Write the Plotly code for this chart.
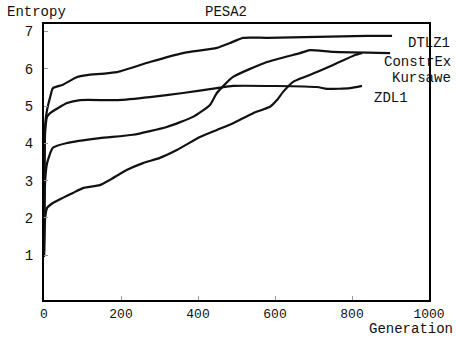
import plotly.graph_objects as go

# Data
dtlz1_gen = [0, 3, 8, 16, 23, 49, 86, 112, 190, 275, 361, 449, 483, 517, 579, 839, 904]
dtlz1_val = [1.0, 4.5, 4.90, 5.24, 5.48, 5.57, 5.78, 5.83, 5.91, 6.18, 6.42, 6.56, 6.69, 6.83, 6.83, 6.88, 6.88]

constrex_gen = [0, 3, 8, 23, 60, 145, 231, 319, 387, 431, 449, 491, 579, 665, 691, 751, 899]
constrex_val = [1.1, 3.0, 3.47, 3.88, 4.01, 4.14, 4.23, 4.44, 4.71, 5.03, 5.35, 5.78, 6.18, 6.42, 6.50, 6.45, 6.42]

zdl1_gen = [0, 3, 8, 16, 60, 94, 190, 275, 361, 449, 491, 709, 735, 795, 826]
zdl1_val = [1.0, 4.3, 4.71, 4.81, 5.08, 5.16, 5.16, 5.24, 5.35, 5.48, 5.54, 5.51, 5.46, 5.48, 5.54]

kursawe_gen = [0, 3, 8, 23, 75, 101, 145, 171, 216, 257, 301, 345, 405, 449, 491, 543, 587, 605, 621, 647, 709, 751, 808, 826]
kursawe_val = [0.95, 2.0, 2.27, 2.40, 2.67, 2.80, 2.88, 3.02, 3.29, 3.47, 3.61, 3.82, 4.17, 4.36, 4.54, 4.81, 4.98, 5.16, 5.38, 5.65, 5.91, 6.10, 6.37, 6.42]

x_ticks = [0, 200, 400, 600, 800, 1000]
y_ticks = [1, 2, 3, 4, 5, 6, 7]

labels = ["DTLZ1", "ConstrEx", "Kursawe", "ZDL1"]

FONT = "Liberation Mono"

fig = go.Figure()
for gx, gy in [(dtlz1_gen, dtlz1_val), (constrex_gen, constrex_val),
               (zdl1_gen, zdl1_val), (kursawe_gen, kursawe_val)]:
    fig.add_trace(go.Scatter(x=gx, y=gy, mode="lines",
                             line=dict(color="#111111", width=2.2, shape="spline", smoothing=0.5),
                             showlegend=False, hoverinfo="skip"))

# label positions (paper coords)
label_pos = [(452, 43), (453, 62), (453, 78), (410, 98)]
for txt, (px, py) in zip(labels, label_pos):
    fig.add_annotation(text=txt, xref="paper", yref="paper",
                       x=(px - 44) / 385, y=(300 - py) / 276,
                       xanchor="right", yanchor="middle", showarrow=False,
                       font=dict(family=FONT, size=14, color="#111111"))

fig.add_annotation(text="Entropy", xref="paper", yref="paper",
                   x=(5 - 44) / 385, y=(300 - 12) / 276, xanchor="left", yanchor="middle",
                   showarrow=False, font=dict(family=FONT, size=14, color="#111111"))
fig.add_annotation(text="PESA2", xref="paper", yref="paper",
                   x=(226 - 44) / 385, y=(300 - 12) / 276, xanchor="center", yanchor="middle",
                   showarrow=False, font=dict(family=FONT, size=14, color="#111111"))
fig.add_annotation(text="Generation", xref="paper", yref="paper",
                   x=(455 - 44) / 385, y=(300 - 329) / 276, xanchor="right", yanchor="middle",
                   showarrow=False, font=dict(family=FONT, size=14, color="#111111"))

fig.update_layout(
    width=456, height=337,
    margin=dict(l=44, r=27, t=24, b=37),
    paper_bgcolor="white", plot_bgcolor="white",
    font=dict(family=FONT, size=14, color="#111111"),
    xaxis=dict(range=[0, 1000], tickvals=x_ticks, showgrid=False, zeroline=False,
               showline=True, linecolor="black", linewidth=2, mirror=True,
               ticks="inside", ticklen=4, tickcolor="#999999",
               tickfont=dict(size=13), ticklabelstandoff=0),
    yaxis=dict(range=[-0.2, 7.2], tickvals=y_ticks, showgrid=False, zeroline=False,
               showline=True, linecolor="black", linewidth=2, mirror=True,
               ticks="inside", ticklen=4, tickcolor="#999999", ticklabelstandoff=6),
)

fig.write_html("out.html", config={"displayModeBar": False},
               post_script="document.body.style.margin='0';document.body.style.overflow='hidden';")
